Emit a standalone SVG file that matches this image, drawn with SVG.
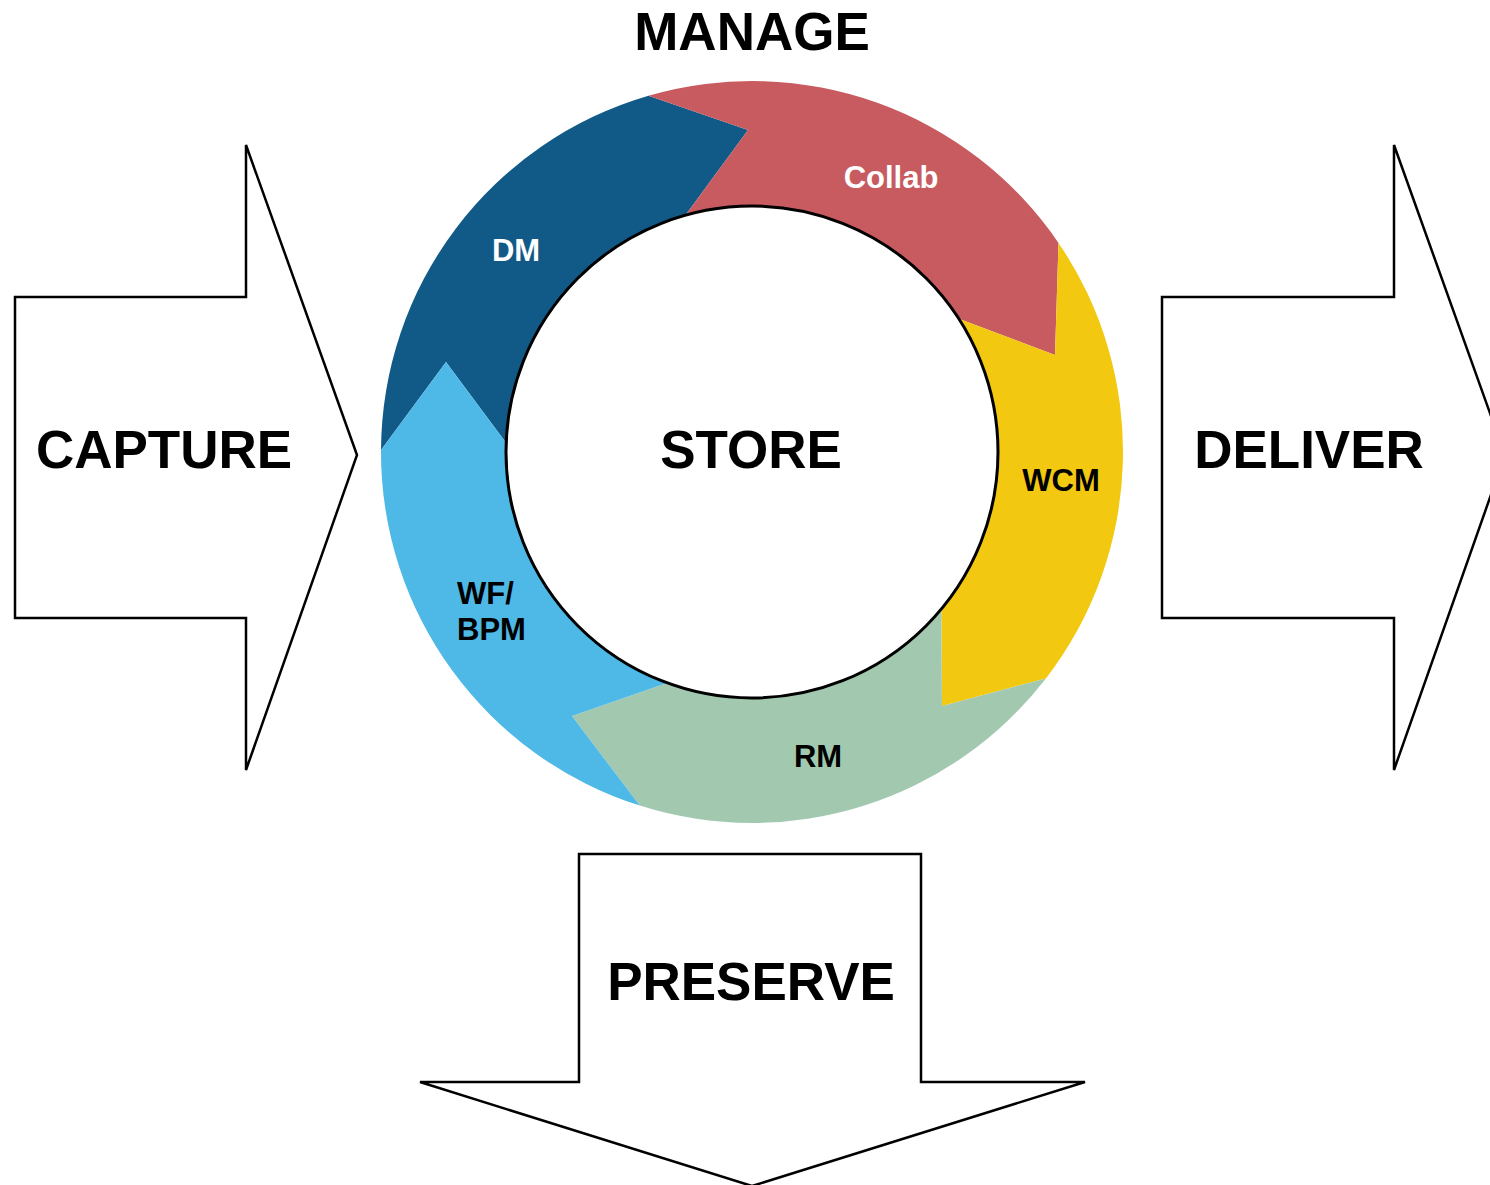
<svg xmlns="http://www.w3.org/2000/svg" width="1490" height="1185" viewBox="0 0 1490 1185">
<style>
.big{font-family:"Liberation Sans",Arial,sans-serif;font-weight:bold;font-size:53px;fill:#000;text-anchor:middle}
.lbl{font-family:"Liberation Sans",Arial,sans-serif;font-weight:bold;font-size:31px;text-anchor:middle}
.arrow{fill:#fff;stroke:#000;stroke-width:2.5;stroke-linejoin:miter}
</style>
<rect width="1490" height="1185" fill="#fff"/>
<g id="manage-title"><text class="big" x="752" y="50">MANAGE</text></g>
<g id="capture">
<path class="arrow" d="M15,297 H246 V145 L357,455 L246,770 V618 H15 Z"/>
<text class="big" x="164" y="468">CAPTURE</text>
</g>
<g id="deliver">
<path class="arrow" d="M1162,297 H1394 V145 L1505,455 L1394,770 V618 H1162 Z"/>
<text class="big" x="1309" y="468">DELIVER</text>
</g>
<g id="preserve">
<path class="arrow" d="M579,854 H921 V1082 H1085 L752,1186 L420,1082 H579 Z"/>
<text class="big" x="751" y="1000">PRESERVE</text>
</g>
<g id="ring">
<g id="seg-dm">
<path fill="#115a87" d="M381,450.1 A371,371 0 0 1 648.5,95.7 L748,130 L685.4,215.2 A246,246 0 0 0 506.2,443 L446,362 Z"/>
<text class="lbl" x="516" y="261" fill="#fff">DM</text>
</g>
<g id="seg-collab">
<path fill="#c75b5f" d="M648.5,95.7 A371,371 0 0 1 1058.5,242.9 L1055,355 L958.8,318.7 A246,246 0 0 0 685.4,215.2 L748,130 Z"/>
<text class="lbl" x="891" y="188" fill="#fff">Collab</text>
</g>
<g id="seg-wcm">
<path fill="#f2c811" d="M1058.5,242.9 A371,371 0 0 1 1045.9,678.4 L942,706 L941.3,609.1 A246,246 0 0 0 958.8,318.7 L1055,355 Z"/>
<text class="lbl" x="1061" y="491" fill="#000">WCM</text>
</g>
<g id="seg-rm">
<path fill="#a2c9b0" d="M1045.9,678.4 A371,371 0 0 1 639.8,805.6 L572,716 L667.1,682.9 A246,246 0 0 0 941.3,609.1 L942,706 Z"/>
<text class="lbl" x="818" y="767" fill="#000">RM</text>
</g>
<g id="seg-wf">
<path fill="#4eb9e6" d="M639.8,805.6 A371,371 0 0 1 381,450.1 L446,362 L506.2,443 A246,246 0 0 0 667.1,682.9 L572,716 Z"/>
<text class="lbl" x="457" y="604" fill="#000" style="text-anchor:start">WF/</text>
<text class="lbl" x="457" y="640" fill="#000" style="text-anchor:start">BPM</text>
</g>
</g>
<g id="store">
<circle cx="752" cy="452" r="246" fill="#fff" stroke="#000" stroke-width="3"/>
<text class="big" x="751" y="468">STORE</text>
</g>
<g id="connectors"/>
</svg>
